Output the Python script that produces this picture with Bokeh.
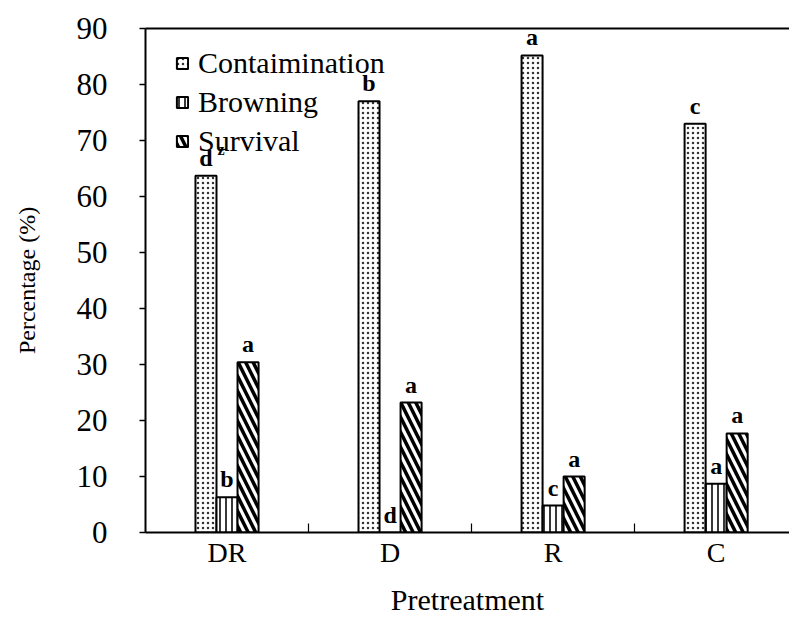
from bokeh.plotting import figure
from bokeh.models import FixedTicker, LinearAxis, Range1d, Legend, LegendItem, ColumnDataSource
from bokeh.core.properties import value
from bokeh.embed import file_html
from bokeh.resources import INLINE

categories = ["DR", "D", "R", "C"]
contamination = [63.7, 77.0, 85.2, 73.0]
browning = [6.3, 0.0, 4.8, 8.7]
survival = [30.4, 23.2, 10.0, 17.7]
contamination_letters = ["d", "b", "a", "c"]
contamination_super = ["z", "", "", ""]
browning_letters = ["b", "d", "c", "a"]
survival_letters = ["a", "a", "a", "a"]
y_ticks = [0, 10, 20, 30, 40, 50, 60, 70, 80, 90]

FONT = "Liberation Serif"
AXFONT = "'Liberation Serif'"
BW = 0.129

centers = [i + 0.5 for i in range(len(categories))]
src = ColumnDataSource(dict(
    xc=[c - BW for c in centers], xb=centers, xs=[c + BW for c in centers],
    cont=contamination, brow=browning, surv=survival,
    lc=contamination_letters, lz=contamination_super,
    lb=browning_letters, ls=survival_letters,
))

p = figure(width=789, height=635, output_backend="svg", toolbar_location=None,
           x_range=Range1d(0, 3.95), y_range=Range1d(0, 90),
           min_border_left=145, min_border_top=28, min_border_right=0,
           min_border_bottom=103)
p.outline_line_color = None
p.grid.visible = False
p.background_fill_color = "white"

common = dict(width=BW, fill_color="white", line_color="black", line_width=2, source=src)
r_c = p.vbar(x="xc", top="cont", hatch_pattern="dot", hatch_color="#333333",
             hatch_scale=5, hatch_weight=1.6, **common)
r_b = p.vbar(x="xb", top="brow", hatch_pattern="vertical_line", hatch_color="#222222",
             hatch_scale=6, hatch_weight=1.8, **common)
r_s = p.vbar(x="xs", top="surv", hatch_pattern="left_diagonal_line", hatch_color="black",
             hatch_scale=15, hatch_weight=3.5, **common)

txt = dict(text_font=value(FONT), text_font_style="bold", text_font_size="24px",
           text_align="center", text_baseline="bottom", text_color="black",
           y_offset=-5, source=src)
p.text(x="xc", y="cont", text="lc", **txt)
p.text(x="xb", y="brow", text="lb", **txt)
p.text(x="xs", y="surv", text="ls", **txt)
p.text(x="xc", y="cont", text="lz", text_font=value(FONT), text_font_style="bold",
       text_font_size="16px", text_align="center", text_baseline="bottom",
       x_offset=15, y_offset=-18, source=src)

# y axis
ya = p.yaxis[0]
ya.ticker = FixedTicker(ticks=y_ticks)
ya.axis_label = "Percentage (%)"
ya.axis_label_text_font = AXFONT
ya.axis_label_text_font_style = "normal"
ya.axis_label_text_font_size = "24px"
ya.axis_label_text_color = "black"
ya.axis_label_standoff = 34
ya.major_label_text_font = AXFONT
ya.major_label_text_font_size = "31px"
ya.major_label_text_color = "black"
ya.major_label_standoff = 32
ya.major_tick_out = 6
ya.major_tick_in = 0
ya.minor_tick_out = 0
ya.minor_tick_in = 0
ya.axis_line_width = 2
ya.major_tick_line_width = 1.5

# x axis
xa = p.xaxis[0]
xa.ticker = FixedTicker(ticks=centers, minor_ticks=[1, 2, 3])
xa.major_label_overrides = {c: cat for c, cat in zip(centers, categories)}
xa.axis_label = "Pretreatment"
xa.axis_label_text_font = AXFONT
xa.axis_label_text_font_style = "normal"
xa.axis_label_text_font_size = "30px"
xa.axis_label_text_color = "black"
xa.axis_label_standoff = 12
xa.major_label_text_font = AXFONT
xa.major_label_text_font_size = "28px"
xa.major_label_text_color = "black"
xa.major_label_standoff = 4
xa.major_tick_out = 0
xa.major_tick_in = 0
xa.minor_tick_in = 9
xa.minor_tick_out = 0
xa.minor_tick_line_width = 1.2
xa.axis_line_width = 2

# top border line
top = LinearAxis(ticker=FixedTicker(ticks=[]), major_tick_out=0, major_tick_in=0,
                 minor_tick_out=0, minor_tick_in=0, major_label_text_font_size="0px",
                 axis_line_width=2)
p.add_layout(top, "above")

legend = Legend(items=[
    LegendItem(label="Contaimination", renderers=[r_c]),
    LegendItem(label="Browning", renderers=[r_b]),
    LegendItem(label="Survival", renderers=[r_s]),
], location=(30, 374), padding=0, spacing=5, glyph_width=14, glyph_height=14,
    label_height=34, label_standoff=9,
    label_text_font=AXFONT, label_text_font_size="30px",
    label_text_color="black",
    border_line_color=None, background_fill_alpha=0)
p.add_layout(legend)

open("out.html", "w").write(file_html(p, INLINE))
